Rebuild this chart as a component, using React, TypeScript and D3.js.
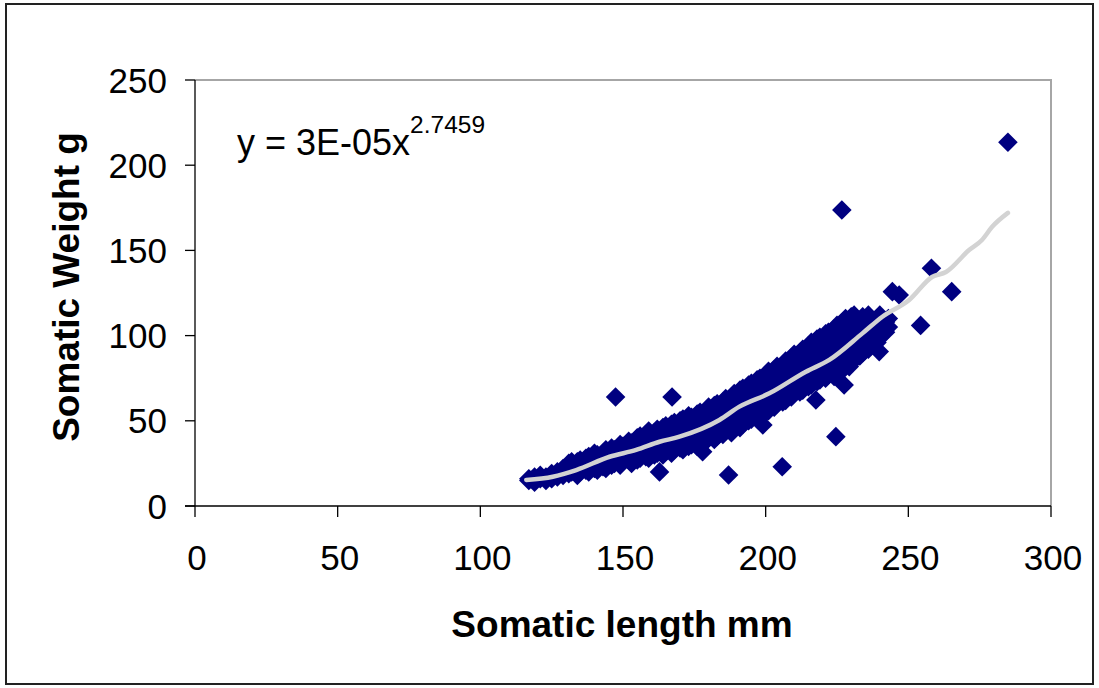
import React from "react";
import * as d3 from "d3";

// Somatic length (mm) -> somatic weights (g)
const bandSamples: [number, number[]][] = [
  [117, [16, 15]], [119, [14, 17]], [121, [16, 18]], [123, [17, 15]],
  [125, [18, 16, 19]], [127, [17, 19, 20]], [129, [18, 21, 22]],
  [131, [19, 22, 25]], [132, [20, 23, 26]], [134, [18, 21, 24, 26]],
  [135, [20, 23, 27]], [137, [21, 24, 28]], [138, [20, 25, 29]],
  [140, [22, 25, 28, 31]], [141, [21, 26, 30]], [143, [23, 27, 31]],
  [144, [22, 28, 33]], [146, [24, 27, 30, 34]], [147, [25, 29, 33]],
  [149, [24, 28, 32, 36]], [150, [26, 30, 35]], [152, [27, 31, 34, 38]],
  [153, [25, 30, 33, 37]], [155, [27, 32, 36, 40]], [156, [28, 33, 38, 41]],
  [158, [29, 34, 37, 42]], [159, [28, 33, 36, 40, 44]], [161, [30, 35, 39, 43]],
  [162, [31, 37, 41, 45]], [164, [30, 34, 38, 42, 46]], [165, [32, 37, 41, 47]],
  [167, [31, 36, 40, 44, 48]], [168, [33, 38, 43, 49]], [170, [34, 39, 42, 46, 50]],
  [171, [33, 37, 41, 45, 51]], [173, [35, 40, 44, 48, 53]], [174, [36, 42, 46, 52]],
  [176, [35, 40, 45, 49, 54]], [177, [37, 43, 47, 51, 55]], [179, [38, 42, 46, 50, 56]],
  [180, [40, 45, 49, 54, 58]], [182, [39, 44, 48, 52, 59]], [183, [41, 46, 51, 55, 60]],
  [185, [42, 47, 52, 57, 61]], [186, [44, 49, 53, 58, 63]], [188, [43, 48, 54, 59, 64]],
  [189, [45, 50, 55, 60, 66]], [191, [46, 52, 57, 62, 68]], [192, [48, 53, 58, 64, 69]],
  [194, [50, 55, 60, 65, 71]], [195, [51, 57, 62, 67, 72]], [197, [52, 58, 63, 68, 74]],
  [198, [54, 60, 65, 70, 75]], [200, [55, 61, 66, 72, 77]], [201, [56, 63, 68, 73, 79]],
  [203, [58, 64, 70, 75, 80]], [204, [60, 66, 71, 77, 82]], [206, [61, 67, 73, 78, 83]],
  [207, [62, 69, 74, 80, 85]], [209, [64, 70, 76, 81, 87]], [210, [66, 72, 78, 83, 89]],
  [212, [67, 73, 79, 85, 90]], [213, [68, 75, 81, 86, 92]], [215, [70, 76, 82, 88, 94]],
  [216, [71, 78, 84, 90, 96]], [218, [73, 79, 85, 91, 98]], [219, [74, 81, 87, 93, 99]],
  [221, [75, 82, 88, 95, 101]], [222, [77, 84, 90, 96, 102]], [224, [76, 85, 92, 98, 104]],
  [225, [78, 86, 93, 100, 106]], [227, [80, 88, 95, 102, 108]], [228, [82, 90, 97, 104, 110]],
  [230, [84, 92, 99, 106, 111]], [231, [86, 94, 101, 108, 112]], [233, [88, 96, 103, 109]],
  [234, [90, 98, 105, 111]], [236, [92, 100, 106, 112]], [237, [94, 101, 108]],
  [239, [96, 103, 110]], [240, [99, 105, 112]], [242, [102, 108]], [243, [105, 110]],
];

// Isolated points away from the band
const outlierLength = [147.4, 167.2, 162.8, 177.9, 187, 199, 205.8, 217.6, 224.6, 226.7, 227.5, 229.3, 239.8, 244.4, 246.8, 254.3, 258.1, 265.2, 284.9];
const outlierWeight = [64, 64, 20, 31.9, 18.2, 47.5, 23, 62.2, 40.7, 173.7, 71, 81.8, 90.6, 125.8, 123.8, 106, 139.5, 125.8, 213.5];

// Trend line as drawn
const trendLength = [116.1, 125.4, 133.6, 145.3, 154.6, 162.8, 169.8, 183.8, 190.8, 201.3, 214.1, 222.3, 233.9, 240.9, 250.3, 258.3, 263.2, 271.3, 275.8, 279.3, 284.9];
const trendWeight = [15.3, 17.2, 21.1, 28.9, 32.9, 37.7, 40.7, 50.5, 58.3, 66.1, 78.8, 85.7, 101.3, 111.1, 120.9, 134.4, 137.3, 150.2, 156.1, 163.7, 172];

const xTicks = [0, 50, 100, 150, 200, 250, 300];
const yTicks = [0, 50, 100, 150, 200, 250];

const FONT = "'Liberation Sans', Arial, Helvetica, sans-serif";

export default function App() {
  const left = 195, right = 1051, top = 80, bottom = 506;
  const x = d3.scaleLinear().domain([0, 300]).range([left, right]);
  const y = d3.scaleLinear().domain([0, 250]).range([bottom, top]);

  const points: [number, number][] = [];
  bandSamples.forEach(([len, ws]) => ws.forEach((w) => points.push([len, w])));
  outlierLength.forEach((l, i) => points.push([l, outlierWeight[i]]));

  const trend = trendLength.map((l, i) => [l, trendWeight[i]] as [number, number]);
  const line = d3.line<[number, number]>().x((d) => x(d[0])).y((d) => y(d[1])).curve(d3.curveMonotoneX);

  const r = 9.8;
  const diamond = `M0,${-r}L${r},0L0,${r}L${-r},0Z`;

  return (
    <svg width={1099} height={688} style={{ position: "absolute", left: 0, top: 0, background: "#fff" }} fontFamily={FONT}>
      <rect x={0} y={0} width={1099} height={688} fill="#fff" />
      <rect x={6} y={4} width={1087} height={680} fill="none" stroke="#222" strokeWidth={2} />
      {/* plot area border (top/right grey) */}
      <path d={`M${left},${top}H${right}V${bottom}`} fill="none" stroke="#a6a6a6" strokeWidth={2} />
      {/* axes */}
      <line x1={left} y1={top} x2={left} y2={bottom} stroke="#000" strokeWidth={1.3} />
      <line x1={left - 10} y1={bottom} x2={right} y2={bottom} stroke="#000" strokeWidth={1.3} />
      {yTicks.map((t) => (
        <g key={"y" + t}>
          <line x1={left - 10} x2={left} y1={y(t)} y2={y(t)} stroke="#000" strokeWidth={1.3} />
          <text x={167} y={y(t)} dy="0.36em" textAnchor="end" fontSize={35}>{t}</text>
        </g>
      ))}
      {xTicks.map((t) => (
        <g key={"x" + t}>
          <line x1={x(t)} x2={x(t)} y1={bottom} y2={bottom + 11} stroke="#000" strokeWidth={1.3} />
          <text x={x(t) + 2} y={570} textAnchor="middle" fontSize={35}>{t}</text>
        </g>
      ))}
      {points.map((p, i) => (
        <path key={i} d={diamond} transform={`translate(${x(p[0])},${y(p[1])})`} fill="#000080" />
      ))}
      <path d={line(trend) || ""} fill="none" stroke="#d3d3d3" strokeWidth={4.5} strokeLinejoin="round" strokeLinecap="round" />
      <text x={237} y={155} fontSize={36}>
        y = 3E-05x<tspan dy={-22} fontSize={24.5}>2.7459</tspan>
      </text>
      <text x={622} y={637} textAnchor="middle" fontSize={37} fontWeight="bold">Somatic length mm</text>
      <text transform={`translate(79,287) rotate(-90)`} textAnchor="middle" fontSize={37} fontWeight="bold">Somatic Weight g</text>
    </svg>
  );
}
